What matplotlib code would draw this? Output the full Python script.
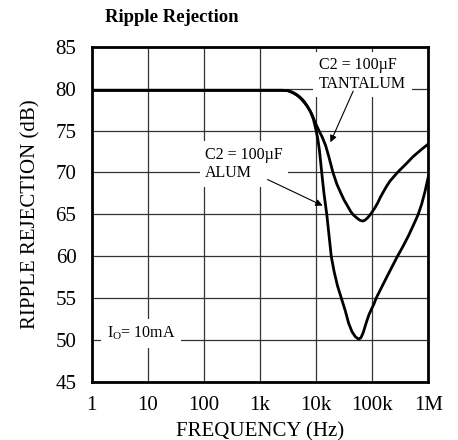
import matplotlib
matplotlib.use("Agg")
import matplotlib.pyplot as plt

plt.rcParams['font.family'] = ['Liberation Serif', 'DejaVu Serif']
plt.rcParams['mathtext.fontset'] = 'custom'
plt.rcParams['mathtext.rm'] = 'Liberation Serif'

# Data: log10(frequency / Hz) and ripple rejection in dB
alum_log_f = [0.0, 1.0, 2.0, 3.0, 3.4, 3.5, 3.55, 3.6, 3.65, 3.7, 3.75, 3.8, 3.85, 3.9,
              3.95, 4.0, 4.03, 4.06, 4.1, 4.14, 4.19, 4.23, 4.27, 4.32, 4.38, 4.45,
              4.52, 4.58, 4.64, 4.7, 4.76, 4.8, 4.84, 4.89, 4.94, 4.98, 5.03, 5.07,
              5.16, 5.25, 5.35, 5.45, 5.55, 5.65, 5.74, 5.82, 5.88, 5.94, 6.0]
alum_db = [79.8, 79.8, 79.8, 79.8, 79.8, 79.75, 79.65, 79.5, 79.3, 79.05, 78.75, 78.35,
           77.85, 77.25, 76.4, 75.0, 74.0, 72.6, 70.0, 67.5, 65.0, 62.5, 60.0, 58.2,
           56.5, 55.0, 53.5, 52.0, 51.0, 50.4, 50.1, 50.3, 50.9, 52.0, 53.0, 53.6,
           54.3, 55.0, 56.2, 57.4, 58.7, 60.0, 61.2, 62.5, 63.8, 65.0, 66.2, 67.7, 69.5]

tant_log_f = [0.0, 1.0, 2.0, 3.0, 3.4, 3.5, 3.55, 3.6, 3.65, 3.7, 3.75, 3.8, 3.85, 3.9,
              3.94, 3.98, 4.05, 4.11, 4.17, 4.23, 4.3, 4.37, 4.45, 4.5, 4.56, 4.62,
              4.67, 4.72, 4.78, 4.83, 4.87, 4.92, 4.98, 5.05, 5.1, 5.15, 5.2, 5.26,
              5.32, 5.45, 5.6, 5.73, 5.87, 6.0]
tant_db = [79.8, 79.8, 79.8, 79.8, 79.8, 79.75, 79.6, 79.45, 79.25, 79.0, 78.65, 78.25,
           77.8, 77.25, 76.7, 76.0, 75.0, 74.2, 73.2, 71.8, 70.0, 68.6, 67.4, 66.7,
           66.0, 65.3, 64.9, 64.6, 64.3, 64.2, 64.3, 64.6, 65.1, 65.8, 66.4, 67.1,
           67.7, 68.4, 69.0, 70.0, 71.0, 71.9, 72.7, 73.4]

x_ticks = [1, 10, 100, 1000, 10000, 100000, 1000000]
x_tick_labels = ['1', '10', '100', '1k', '10k', '100k', '1M']
y_ticks = [45, 50, 55, 60, 65, 70, 75, 80, 85]

alum_freq = [10 ** v for v in alum_log_f]
tant_freq = [10 ** v for v in tant_log_f]

fig = plt.figure(figsize=(4.58, 4.4), dpi=100)
ax = fig.add_axes([0.2002, 0.1318, 0.735, 0.762])

ax.set_xscale('log')
ax.set_xlim(1, 1e6)
ax.set_ylim(45, 85)
ax.set_xticks(x_ticks)
ax.set_xticklabels(x_tick_labels)
ax.set_yticks(y_ticks)
ax.minorticks_off()
ax.tick_params(axis='both', length=0, labelsize=15)
ax.tick_params(axis='y', pad=11)
ax.tick_params(axis='x', pad=10)
ax.grid(True, color='#333333', lw=0.9, zorder=0.5)
ax.set_axisbelow(True)
for s in ax.spines.values():
    s.set_linewidth(2.0)
    s.set_zorder(5)

ax.plot(alum_freq, alum_db, color='black', lw=2.0, zorder=3, solid_joinstyle='round')
ax.plot(tant_freq, tant_db, color='black', lw=2.0, zorder=3, solid_joinstyle='round')

box = dict(facecolor='white', edgecolor='none', pad=4)

ax.text(11200, 81.7, 'C2 = 100µF\nTANTALUM', fontsize=11.5, ha='left', va='center',
        bbox=box, zorder=2.5)
ax.annotate('', xy=(10 ** 4.235, 73.3), xytext=(10 ** 4.68, 80.0),
            arrowprops=dict(arrowstyle='-|>', color='black', lw=0.8, mutation_scale=10),
            zorder=4)

ax.text(105, 71.0, 'C2 = 100µF\nALUM', fontsize=11.5, ha='left', va='center',
        bbox=box, zorder=2.5)
ax.annotate('', xy=(10 ** 4.16, 65.9), xytext=(10 ** 3.09, 69.3),
            arrowprops=dict(arrowstyle='-|>', color='black', lw=0.8, mutation_scale=10),
            zorder=4)

ax.text(1.87, 50.8, r'$\mathregular{I_O}$= 10mA', fontsize=11.5, ha='left', va='center',
        bbox=box, zorder=2.5)

ax.set_xlabel('FREQUENCY (Hz)', fontsize=15, labelpad=5)
ax.set_ylabel('RIPPLE REJECTION (dB)', fontsize=15, labelpad=11)

fig.text(105 / 458, 1 - 18 / 440, 'Ripple Rejection', fontweight='bold', fontsize=13.5,
         ha='left', va='center')

fig.savefig('out.png', dpi=100)
